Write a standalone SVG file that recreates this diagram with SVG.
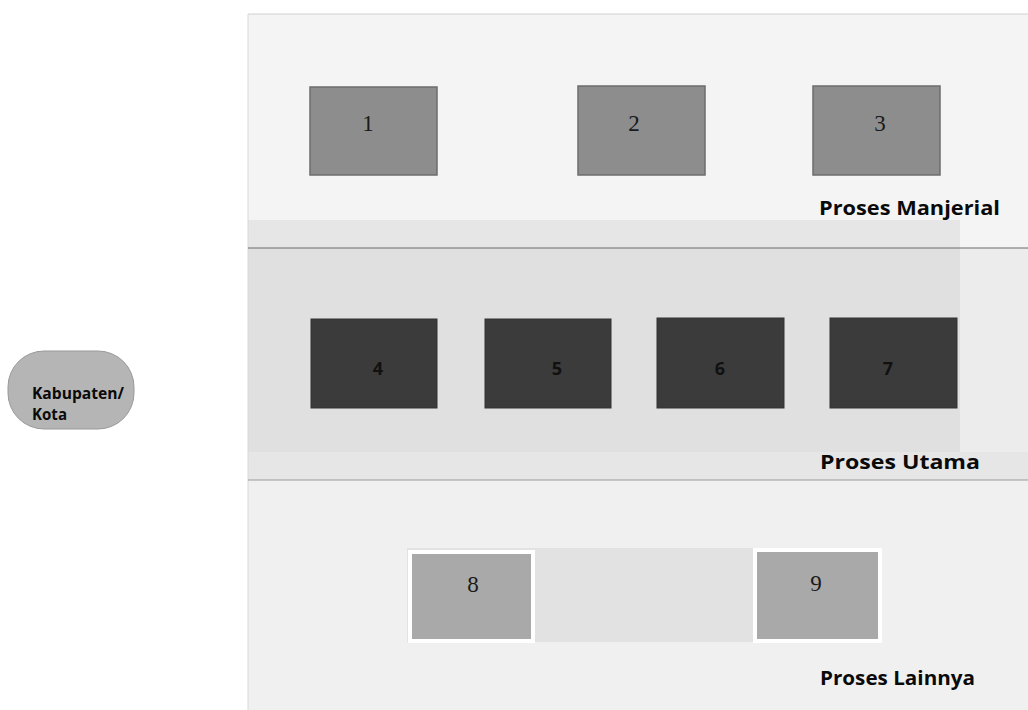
<svg xmlns="http://www.w3.org/2000/svg" width="1028" height="710" viewBox="0 0 1028 710">
<style>
.mgr{fill:#8d8d8d;stroke:#6c6c6c;stroke-width:1.5}
.main{fill:#3b3b3b;stroke:#333;stroke-width:1}
.oth{fill:#a9a9a9;stroke:#fff;stroke-width:4}
.ser{font-family:"Liberation Serif",serif;font-size:23px;fill:#1a1a1a;text-anchor:middle}
.bn{font-family:"Open Sans","Liberation Sans",sans-serif;font-weight:bold;font-size:18px;fill:#111;text-anchor:middle}
.lbl{font-family:"Open Sans","Liberation Sans",sans-serif;font-weight:bold;font-size:20px;fill:#0a0a0a}
.kab{font-family:"Open Sans","Liberation Sans",sans-serif;font-weight:bold;font-size:15.5px;fill:#0a0a0a}
.sep{stroke:#6a6a6a;stroke-width:1.2}
</style>
<rect width="1028" height="710" fill="#ffffff"/>
<g id="bands">
<rect x="248" y="14" width="780" height="234" fill="#f4f4f4"/>
<rect x="248" y="220" width="712" height="28" fill="#e6e6e6"/>
<rect x="248" y="248" width="780" height="232" fill="#ececec"/>
<rect x="248" y="248" width="712" height="204" fill="#e0e0e0"/>
<rect x="248" y="452" width="780" height="28" fill="#e6e6e6"/>
<rect x="248" y="480" width="780" height="230" fill="#f0f0f0"/>
<rect x="407" y="548" width="346" height="94" fill="#e2e2e2"/>
<line x1="248" y1="14" x2="1028" y2="14" stroke="#d0d0d0" stroke-width="1"/>
<line x1="248" y1="14" x2="248" y2="710" stroke="#d8d8d8" stroke-width="1"/>
<line class="sep" x1="248" y1="248" x2="1028" y2="248"/>
<line x1="248" y1="480" x2="1028" y2="480" stroke="#9a9a9a" stroke-width="1"/>
</g>
<g id="kabupaten">
<rect x="8" y="351" width="126" height="78" rx="36" ry="36" fill="#b5b5b5" stroke="#999" stroke-width="1"/>
<text class="kab" x="32" y="399" textLength="92" lengthAdjust="spacingAndGlyphs">Kabupaten/</text>
<text class="kab" x="32" y="420" textLength="35" lengthAdjust="spacingAndGlyphs">Kota</text>
</g>
<g id="n1"><rect class="mgr" x="310" y="87" width="127" height="88"/><text class="ser" x="368" y="131">1</text></g>
<g id="n2"><rect class="mgr" x="578" y="86" width="127" height="89"/><text class="ser" x="634" y="131">2</text></g>
<g id="n3"><rect class="mgr" x="813" y="86" width="127" height="89"/><text class="ser" x="880" y="131">3</text></g>
<g id="n4"><rect class="main" x="311" y="319" width="126" height="89"/><text class="bn" x="378" y="375">4</text></g>
<g id="n5"><rect class="main" x="485" y="319" width="126" height="89"/><text class="bn" x="557" y="375">5</text></g>
<g id="n6"><rect class="main" x="657" y="318" width="127" height="90"/><text class="bn" x="720" y="375">6</text></g>
<g id="n7"><rect class="main" x="830" y="318" width="127" height="90"/><text class="bn" x="888" y="375">7</text></g>
<g id="n8"><rect class="oth" x="410" y="552" width="123" height="89"/><text class="ser" x="473" y="592">8</text></g>
<g id="n9"><rect class="oth" x="755" y="550" width="125" height="91"/><text class="ser" x="816" y="591">9</text></g>
<g id="labels">
<text class="lbl" x="819" y="215" textLength="181" lengthAdjust="spacingAndGlyphs">Proses Manjerial</text>
<text class="lbl" x="820" y="469" textLength="160" lengthAdjust="spacingAndGlyphs">Proses Utama</text>
<text class="lbl" x="820" y="685" textLength="155" lengthAdjust="spacingAndGlyphs">Proses Lainnya</text>
</g>
<g id="connectors"></g>
</svg>
